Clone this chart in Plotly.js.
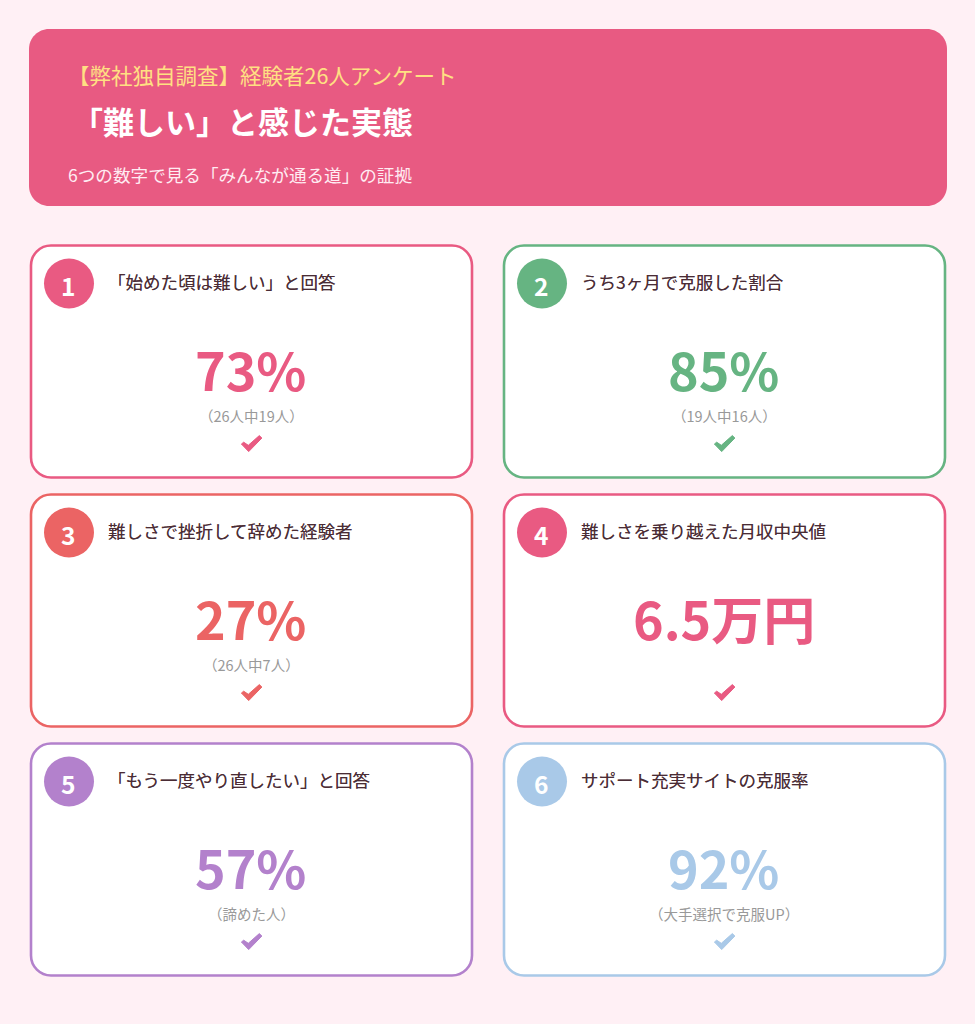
<!DOCTYPE html>
<html lang="ja">
<head>
<meta charset="utf-8">
<script src="https://cdn.plot.ly/plotly-3.0.1.min.js"></script>
<style>
  html, body { margin: 0; padding: 0; background: #FFF0F5; overflow: hidden; }
  #chart { width: 975px; height: 1024px; }
</style>
</head>
<body>
<div id="chart"></div>
<script>
// Texte und Werte
const headerTop = '【弊社独自調査】経験者26人アンケート';
const headerTitle = '「難しい」と感じた実態';
const headerSub = '6つの数字で見る「みんなが通る道」の証拠';

const cardNumbers = ['1', '2', '3', '4', '5', '6'];
const cardLabels = [
  '「始めた頃は難しい」と回答',
  'うち3ヶ月で克服した割合',
  '難しさで挫折して辞めた経験者',
  '難しさを乗り越えた月収中央値',
  '「もう一度やり直したい」と回答',
  'サポート充実サイトの克服率'
];
const cardValues = ['73%', '85%', '27%', '6.5万円', '57%', '92%'];
const cardNotes = ['（26人中19人）', '（19人中16人）', '（26人中7人）', '', '（諦めた人）', '（大手選択で克服UP）'];
const cardColors = ['#E95A82', '#66B482', '#EB6464', '#E95A82', '#B381CC', '#A9C9E8'];

const JP = '"Noto Sans CJK JP", "Noto Sans", sans-serif';

// Hilfsfunktion: abgerundetes Rechteck als SVG-Pfad
function roundRect(x0, y0, x1, y1, r) {
  const k = r * 0.45;
  return `M${x0 + r},${y0} L${x1 - r},${y0} C${x1 - k},${y0} ${x1},${y0 + k} ${x1},${y0 + r} ` +
         `L${x1},${y1 - r} C${x1},${y1 - k} ${x1 - k},${y1} ${x1 - r},${y1} L${x0 + r},${y1} ` +
         `C${x0 + k},${y1} ${x0},${y1 - k} ${x0},${y1 - r} L${x0},${y0 + r} C${x0},${y0 + k} ${x0 + k},${y0} ${x0 + r},${y0} Z`;
}

// Haken-Symbol um den Mittelpunkt (cx, cy)
function checkMark(cx, cy) {
  const p = [[-9.6, 1.5], [-7.3, -0.3], [-2.7, 2.8], [8.3, -6.9], [10.9, -4.5], [-2.3, 9.1]];
  return p.map((q, i) => `${i ? 'L' : 'M'}${cx + q[0]},${cy + q[1]}`).join(' ') + ' Z';
}

function label(x, y, text, size, color, anchor, weight, shadow) {
  const font = { family: JP, size, color, weight: weight || 400 };
  if (shadow) font.shadow = shadow;
  return {
    x, y, text,
    xref: 'x', yref: 'y',
    xanchor: anchor, yanchor: 'middle',
    showarrow: false,
    font
  };
}

const shapes = [{
  type: 'path',
  path: roundRect(29, 29, 947, 206, 20),
  fillcolor: '#E85A82',
  line: { width: 0 }
}];

const annotations = [
  label(66, 74, headerTop, 21.5, '#FFE082', 'left', 400),
  label(69.5, 120.5, headerTitle, 31, '#FFFFFF', 'left', 700),
  label(66, 174.5, headerSub, 17.6, '#FFECF2', 'left', 400)
];

// ---------------------------------------------------------
// Karten
// ---------------------------------------------------------
const colX = [31, 504];
const rowY = [245.5, 494.5, 743.5];
const cardW = 441;
const cardH = 232;

cardLabels.forEach((text, i) => {
  const x = colX[i % 2];
  const y = rowY[Math.floor(i / 2)];
  const color = cardColors[i];

  shapes.push({
    type: 'path',
    path: roundRect(x, y, x + cardW, y + cardH, 20),
    fillcolor: '#FFFFFF',
    line: { color, width: 2.6 }
  });
  shapes.push({
    type: 'circle',
    x0: x + 13, x1: x + 63, y0: y + 13, y1: y + 63,
    fillcolor: color,
    line: { width: 0 }
  });
  shapes.push({
    type: 'path',
    path: checkMark(x + 220, y + 197),
    fillcolor: color,
    line: { color, width: 1 }
  });

  annotations.push(label(x + 37, y + 40, cardNumbers[i], 24.5, '#FFFFFF', 'center', 700));
  annotations.push(label(x + 74.5, y + 35.5, text, 17.5, '#4A2C35', 'left', 400, '0 0 0.4px rgba(74,44,53,0.6)'));
  annotations.push(label(x + 219.5, y + 123, cardValues[i], 52, color, 'center', 700));
  if (cardNotes[i]) {
    annotations.push(label(x + 220, y + 170, cardNotes[i], 14.5, '#999999', 'center', 400));
  }
});

const layout = {
  width: 975,
  height: 1024,
  margin: { l: 0, r: 0, t: 0, b: 0 },
  paper_bgcolor: '#FFF0F5',
  plot_bgcolor: '#FFF0F5',
  showlegend: false,
  xaxis: { range: [0, 975], visible: false, fixedrange: true },
  yaxis: { range: [1024, 0], visible: false, fixedrange: true },
  shapes,
  annotations
};

Plotly.newPlot('chart', [], layout, { displayModeBar: false, staticPlot: true });
</script>
</body>
</html>
